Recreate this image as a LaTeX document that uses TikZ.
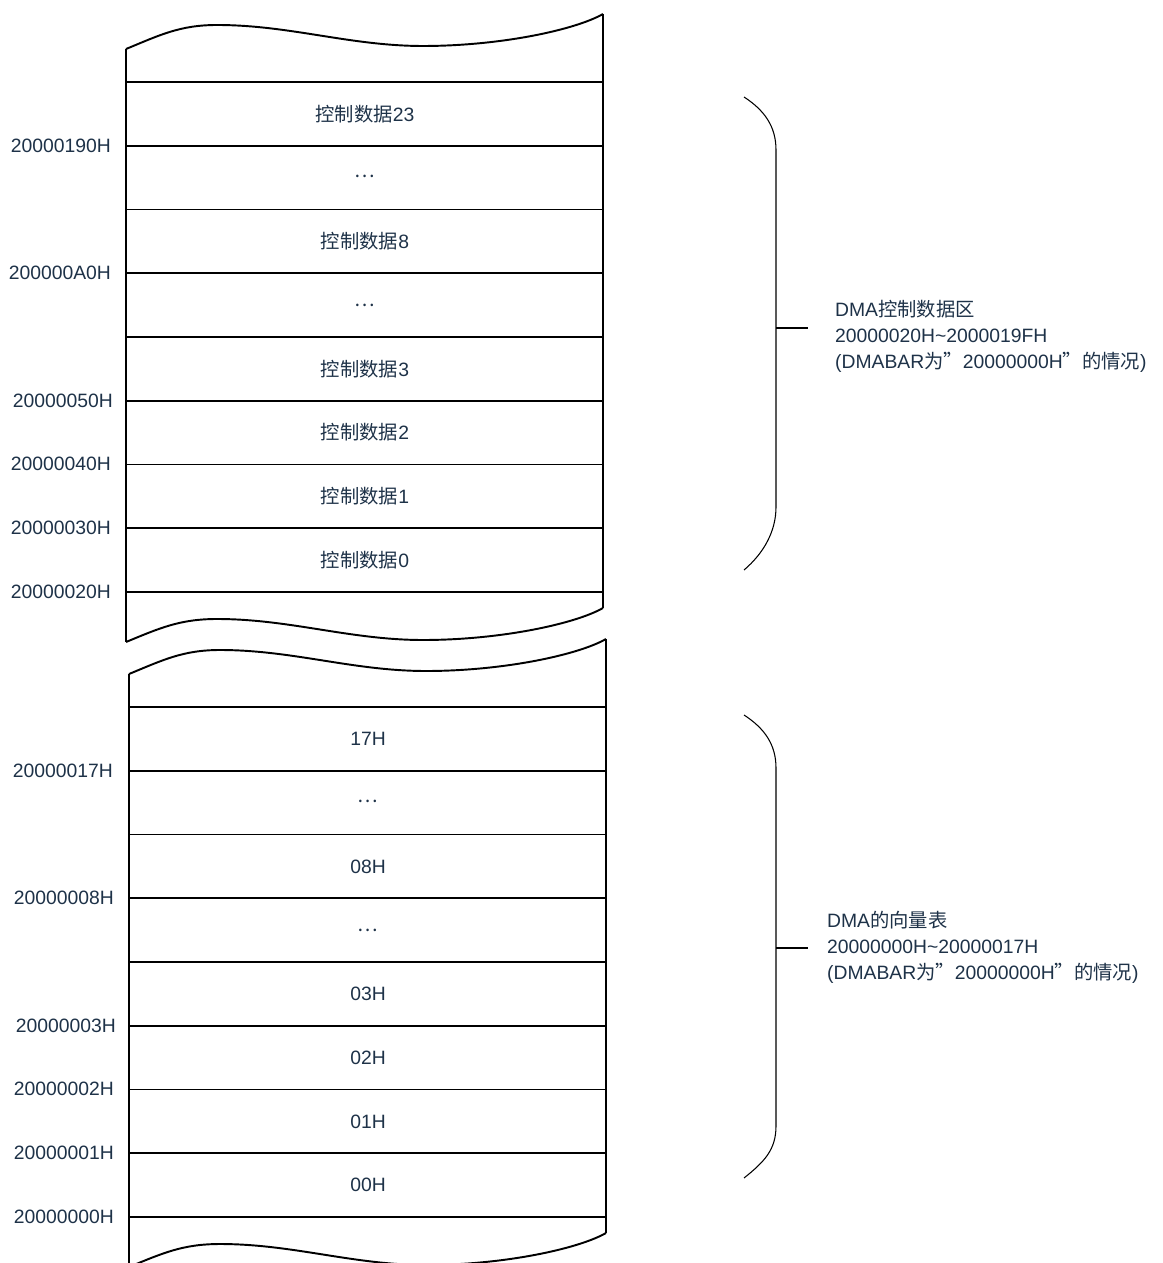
\documentclass[tikz,border=0pt]{standalone}
\usepackage{fontspec}
\setmainfont{Liberation Sans}
\newfontfamily\cjk{Noto Sans CJK SC}
\usepackage{tikz}
\definecolor{txtblue}{RGB}{30,50,72}

\begin{document}
\begin{tikzpicture}[x=0.02cm,y=-0.02cm,
  every node/.style={text=txtblue,font=\fontsize{11}{14.8}\selectfont,inner sep=1pt},
  box/.style={line width=1.1pt},
  brace/.style={line width=0.6pt}]
\clip (0,0) rectangle (1162,1263);
\useasboundingbox (0,0) rectangle (1162,1263);
% upper block: DMA control data
\begin{scope}
\draw[box] (126,49) .. controls (160,35) and (180,25) .. (217,25)
  .. controls (290,25) and (350,46) .. (423,46)
  .. controls (500,46) and (575,30) .. (603,14);
\draw[box] (126,49) -- (126,642);
\draw[box] (603,14) -- (603,608);
\draw[box] (126,642) .. controls (160,628) and (180,619) .. (217,619)
  .. controls (290,619) and (350,640) .. (423,640)
  .. controls (500,640) and (575,624) .. (603,608);
\foreach \i in {0,...,8}
  \draw[box] (126,82+63.75*\i) -- (603,82+63.75*\i);
\node (c23) at (365,113.9) {{\cjk 控制数据}23};
\node (c22) at (365,176) {\cjk …};
\node (c8)  at (365,241.4) {{\cjk 控制数据}8};
\node (c7)  at (365,305.1) {\cjk …};
\node (c3)  at (365,368.9) {{\cjk 控制数据}3};
\node (c2)  at (365,432.6) {{\cjk 控制数据}2};
\node (c1)  at (365,496.4) {{\cjk 控制数据}1};
\node (c0)  at (365,560.1) {{\cjk 控制数据}0};
\node[anchor=east] (a190) at (113,145.8) {20000190H};
\node[anchor=east] (a0A0) at (113,273) {200000A0H};
\node[anchor=east] (a050) at (115,400.5) {20000050H};
\node[anchor=east] (a040) at (113,464.3) {20000040H};
\node[anchor=east] (a030) at (113,528) {20000030H};
\node[anchor=east] (a020) at (113,591.8) {20000020H};
\end{scope}
% lower block: DMA vector table
\begin{scope}[shift={(3,625)}]
\draw[box] (126,49) .. controls (160,35) and (180,25) .. (217,25)
  .. controls (290,25) and (350,46) .. (423,46)
  .. controls (500,46) and (575,30) .. (603,14);
\draw[box] (126,49) -- (126,642);
\draw[box] (603,14) -- (603,608);
\draw[box] (126,642) .. controls (160,628) and (180,619) .. (217,619)
  .. controls (290,619) and (350,640) .. (423,640)
  .. controls (500,640) and (575,624) .. (603,608);
\foreach \i in {0,...,8}
  \draw[box] (126,82+63.75*\i) -- (603,82+63.75*\i);
\node (v17) at (365,113.9) {17H};
\node (v16) at (365,176) {\cjk …};
\node (v08) at (365,241.4) {08H};
\node (v07) at (365,305.1) {\cjk …};
\node (v03) at (365,368.9) {03H};
\node (v02) at (365,432.6) {02H};
\node (v01) at (365,496.4) {01H};
\node (v00) at (365,560.1) {00H};
\node[anchor=east] (b17) at (112,145.8) {20000017H};
\node[anchor=east] (b08) at (113,273) {20000008H};
\node[anchor=east] (b03) at (115,400.5) {20000003H};
\node[anchor=east] (b02) at (113,464.3) {20000002H};
\node[anchor=east] (b01) at (113,528) {20000001H};
\node[anchor=east] (b00) at (113,591.8) {20000000H};
\end{scope}
% braces
\draw[brace] (744,97) .. controls (764,110) and (776,126) .. (776,150)
  -- (776,507) .. controls (776,531) and (764,553) .. (744,570);
\coordinate (t1) at (808,328);
\draw[brace] (776,328) -- (t1);
\node[anchor=west,align=left] (ctrl) at (833,336)
  {DMA{\cjk 控制数据区}\\20000020H\textasciitilde2000019FH\\(DMABAR{\cjk 为”}20000000H{\cjk ”的情况})};
\draw[brace] (744,715) .. controls (764,728) and (776,744) .. (776,768)
  -- (776,1126) .. controls (776,1150) and (764,1162) .. (744,1178);
\coordinate (t2) at (808,948);
\draw[brace] (776,948) -- (t2);
\node[anchor=west,align=left] (vect) at (825,947)
  {DMA{\cjk 的向量表}\\20000000H\textasciitilde20000017H\\(DMABAR{\cjk 为”}20000000H{\cjk ”的情况})};
\end{tikzpicture}
\end{document}
